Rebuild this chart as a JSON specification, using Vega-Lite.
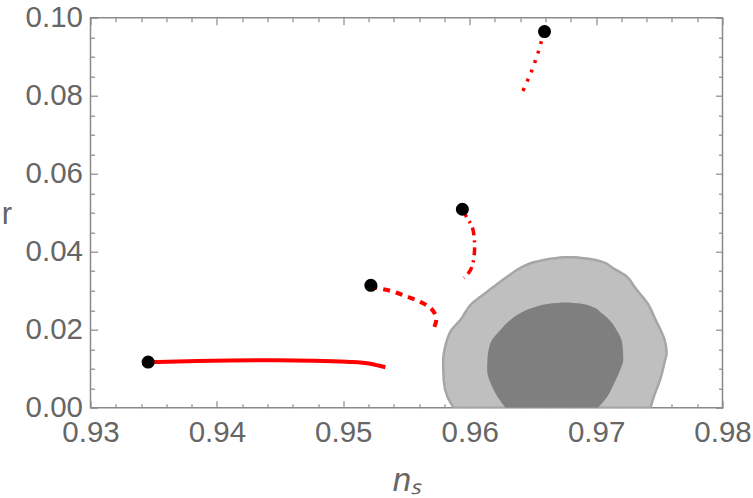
{
  "$schema": "https://vega.github.io/schema/vega-lite/v6.json",
  "width": 632,
  "height": 390,
  "autosize": {"type": "none"},
  "padding": {"left": 90.5, "top": 17.7, "right": 30, "bottom": 90},
  "background": "white",
  "config": {
    "view": {"stroke": "#8a8a8a", "strokeWidth": 1.5},
    "axis": {"domain": false, "grid": false, "tickColor": "#8a8a8a", "tickWidth": 1.2, "labelFont": "Liberation Sans", "labelFontSize": 29.5, "labelColor": "#666666", "labelFlush": false, "labelOverlap": false, "titleFont": "Liberation Sans", "titleColor": "#666666", "titleFontWeight": "normal", "titleFontSize": 29}
  },
  "datasets": {
    "outer": [
      {"r": 0.0, "lo": 0.95873, "hi": 0.97431},
      {"r": 0.00282, "lo": 0.95824, "hi": 0.97457},
      {"r": 0.00711, "lo": 0.95794, "hi": 0.97506},
      {"r": 0.01224, "lo": 0.9579, "hi": 0.97546},
      {"r": 0.01404, "lo": 0.95796, "hi": 0.97558},
      {"r": 0.01738, "lo": 0.95821, "hi": 0.97542},
      {"r": 0.01995, "lo": 0.95855, "hi": 0.9751},
      {"r": 0.02251, "lo": 0.95927, "hi": 0.97471},
      {"r": 0.02688, "lo": 0.96022, "hi": 0.97405},
      {"r": 0.02842, "lo": 0.96085, "hi": 0.97368},
      {"r": 0.03098, "lo": 0.96188, "hi": 0.97304},
      {"r": 0.03355, "lo": 0.96296, "hi": 0.97246},
      {"r": 0.03586, "lo": 0.96402, "hi": 0.9713},
      {"r": 0.0374, "lo": 0.9652, "hi": 0.97051},
      {"r": 0.03817, "lo": 0.96639, "hi": 0.9694},
      {"r": 0.03856, "lo": 0.96734, "hi": 0.96837}
    ],
    "inner": [
      {"r": 0.0, "lo": 0.96283, "hi": 0.97014},
      {"r": 0.00282, "lo": 0.9622, "hi": 0.97088},
      {"r": 0.00539, "lo": 0.96178, "hi": 0.9713},
      {"r": 0.00968, "lo": 0.96138, "hi": 0.9719},
      {"r": 0.01224, "lo": 0.9614, "hi": 0.97215},
      {"r": 0.01661, "lo": 0.96164, "hi": 0.97207},
      {"r": 0.01995, "lo": 0.96243, "hi": 0.97162},
      {"r": 0.02251, "lo": 0.96322, "hi": 0.97106},
      {"r": 0.02431, "lo": 0.96402, "hi": 0.97043},
      {"r": 0.02585, "lo": 0.9652, "hi": 0.96972},
      {"r": 0.02675, "lo": 0.96655, "hi": 0.96861},
      {"r": 0.027, "lo": 0.96734, "hi": 0.96782}
    ],
    "solid": [
      {"i": 0, "ns": 0.93458, "r": 0.01165},
      {"i": 1, "ns": 0.93842, "r": 0.01195},
      {"i": 2, "ns": 0.94367, "r": 0.01215},
      {"i": 3, "ns": 0.94763, "r": 0.01206},
      {"i": 4, "ns": 0.95029, "r": 0.01178},
      {"i": 5, "ns": 0.95214, "r": 0.01125},
      {"i": 6, "ns": 0.95277, "r": 0.0108},
      {"i": 7, "ns": 0.95333, "r": 0.01037}
    ],
    "dashed": [
      {"i": 0, "ns": 0.95218, "r": 0.03137},
      {"i": 1, "ns": 0.95238, "r": 0.03098},
      {"i": 2, "ns": 0.95372, "r": 0.02996},
      {"i": 3, "ns": 0.95491, "r": 0.02867},
      {"i": 4, "ns": 0.9561, "r": 0.02713},
      {"i": 5, "ns": 0.95689, "r": 0.02559},
      {"i": 6, "ns": 0.95729, "r": 0.0238},
      {"i": 7, "ns": 0.95736, "r": 0.02251},
      {"i": 8, "ns": 0.95721, "r": 0.02072}
    ],
    "dashdot": [
      {"i": 0, "ns": 0.9595, "r": 0.05075},
      {"i": 1, "ns": 0.95974, "r": 0.04895},
      {"i": 2, "ns": 0.96019, "r": 0.04646},
      {"i": 3, "ns": 0.96037, "r": 0.04305},
      {"i": 4, "ns": 0.96037, "r": 0.03971},
      {"i": 5, "ns": 0.96019, "r": 0.0362},
      {"i": 6, "ns": 0.95992, "r": 0.03458},
      {"i": 7, "ns": 0.95953, "r": 0.03329}
    ],
    "dotted": [
      {"i": 0, "ns": 0.96592, "r": 0.09644},
      {"i": 1, "ns": 0.96565, "r": 0.0937},
      {"i": 2, "ns": 0.96542, "r": 0.09113},
      {"i": 3, "ns": 0.96515, "r": 0.08856},
      {"i": 4, "ns": 0.96486, "r": 0.086},
      {"i": 5, "ns": 0.96455, "r": 0.08368},
      {"i": 6, "ns": 0.9642, "r": 0.08112}
    ],
    "points": [
      {"ns": 0.93456, "r": 0.0117},
      {"ns": 0.95218, "r": 0.03137},
      {"ns": 0.95942, "r": 0.05088},
      {"ns": 0.96592, "r": 0.09644}
    ]
  },
  "resolve": {"axis": {"x": "independent", "y": "independent"}},
  "layer": [
    {
      "data": {"name": "outer"},
      "mark": {"type": "area", "orient": "horizontal", "interpolate": "monotone", "fill": "#bfbfbf", "stroke": "#a6a6a6", "strokeWidth": 2.5, "clip": true},
      "encoding": {
        "y": {"field": "r", "type": "quantitative", "scale": {"domain": [0, 0.1], "nice": false, "zero": false},
          "axis": {"orient": "left", "values": [0, 0.02, 0.04, 0.06, 0.08, 0.1], "format": ".2f", "tickSize": -7, "labelPadding": 15,
            "title": "r", "titleAngle": 0, "titleX": -84, "titleY": 197, "titleAlign": "center", "titleBaseline": "middle", "titleFontSize": 31}},
        "x": {"field": "lo", "type": "quantitative", "scale": {"domain": [0.93, 0.98], "nice": false, "zero": false},
          "axis": {"orient": "bottom", "values": [0.93, 0.94, 0.95, 0.96, 0.97, 0.98], "format": ".2f", "tickSize": -7, "labelPadding": 18,
            "title": "nₛ", "titleFontStyle": "italic", "titleFontSize": 33, "titleY": 83, "titleBaseline": "alphabetic"}},
        "x2": {"field": "hi"}
      }
    },
    {
      "data": {"name": "inner"},
      "mark": {"type": "area", "orient": "horizontal", "interpolate": "monotone", "fill": "#7f7f7f", "clip": true},
      "encoding": {
        "y": {"field": "r", "type": "quantitative",
          "axis": {"orient": "left", "values": [0.005, 0.01, 0.015, 0.025, 0.03, 0.035, 0.045, 0.05, 0.055, 0.065, 0.07, 0.075, 0.085, 0.09, 0.095], "labels": false, "tickSize": -4, "title": null}},
        "x": {"field": "lo", "type": "quantitative",
          "axis": {"orient": "bottom", "values": [0.932, 0.934, 0.936, 0.938, 0.942, 0.944, 0.946, 0.948, 0.952, 0.954, 0.956, 0.958, 0.962, 0.964, 0.966, 0.968, 0.972, 0.974, 0.976, 0.978], "labels": false, "tickSize": -4, "title": null}},
        "x2": {"field": "hi"}
      }
    },
    {
      "data": {"name": "solid"},
      "mark": {"type": "line", "color": "#ff0000", "strokeWidth": 4, "strokeCap": "butt", "interpolate": "monotone"},
      "encoding": {
        "x": {"field": "ns", "type": "quantitative",
          "axis": {"orient": "top", "values": [0.93, 0.94, 0.95, 0.96, 0.97, 0.98], "labels": false, "tickSize": -7, "title": null}},
        "y": {"field": "r", "type": "quantitative",
          "axis": {"orient": "right", "values": [0, 0.02, 0.04, 0.06, 0.08, 0.1], "labels": false, "tickSize": -7, "title": null}},
        "order": {"field": "i"}
      }
    },
    {
      "data": {"name": "dashed"},
      "mark": {"type": "line", "color": "#ff0000", "strokeWidth": 4, "strokeDash": [7, 6], "strokeCap": "butt", "interpolate": "catmull-rom"},
      "encoding": {
        "x": {"field": "ns", "type": "quantitative",
          "axis": {"orient": "top", "values": [0.932, 0.934, 0.936, 0.938, 0.942, 0.944, 0.946, 0.948, 0.952, 0.954, 0.956, 0.958, 0.962, 0.964, 0.966, 0.968, 0.972, 0.974, 0.976, 0.978], "labels": false, "tickSize": -4, "title": null}},
        "y": {"field": "r", "type": "quantitative",
          "axis": {"orient": "right", "values": [0.005, 0.01, 0.015, 0.025, 0.03, 0.035, 0.045, 0.05, 0.055, 0.065, 0.07, 0.075, 0.085, 0.09, 0.095], "labels": false, "tickSize": -4, "title": null}},
        "order": {"field": "i"}
      }
    },
    {
      "data": {"name": "dashdot"},
      "mark": {"type": "line", "color": "#ff0000", "strokeWidth": 3.5, "strokeDash": [8, 5, 2, 5], "strokeCap": "butt", "interpolate": "catmull-rom"},
      "encoding": {
        "x": {"field": "ns", "type": "quantitative", "axis": null},
        "y": {"field": "r", "type": "quantitative", "axis": null},
        "order": {"field": "i"}
      }
    },
    {
      "data": {"name": "dotted"},
      "mark": {"type": "line", "color": "#ff0000", "strokeWidth": 3.5, "strokeDash": [3, 7], "strokeCap": "butt", "interpolate": "catmull-rom"},
      "encoding": {
        "x": {"field": "ns", "type": "quantitative", "axis": null},
        "y": {"field": "r", "type": "quantitative", "axis": null},
        "order": {"field": "i"}
      }
    },
    {
      "data": {"name": "points"},
      "mark": {"type": "circle", "color": "black", "opacity": 1, "size": 170},
      "encoding": {
        "x": {"field": "ns", "type": "quantitative", "axis": null},
        "y": {"field": "r", "type": "quantitative", "axis": null}
      }
    }
  ]
}
